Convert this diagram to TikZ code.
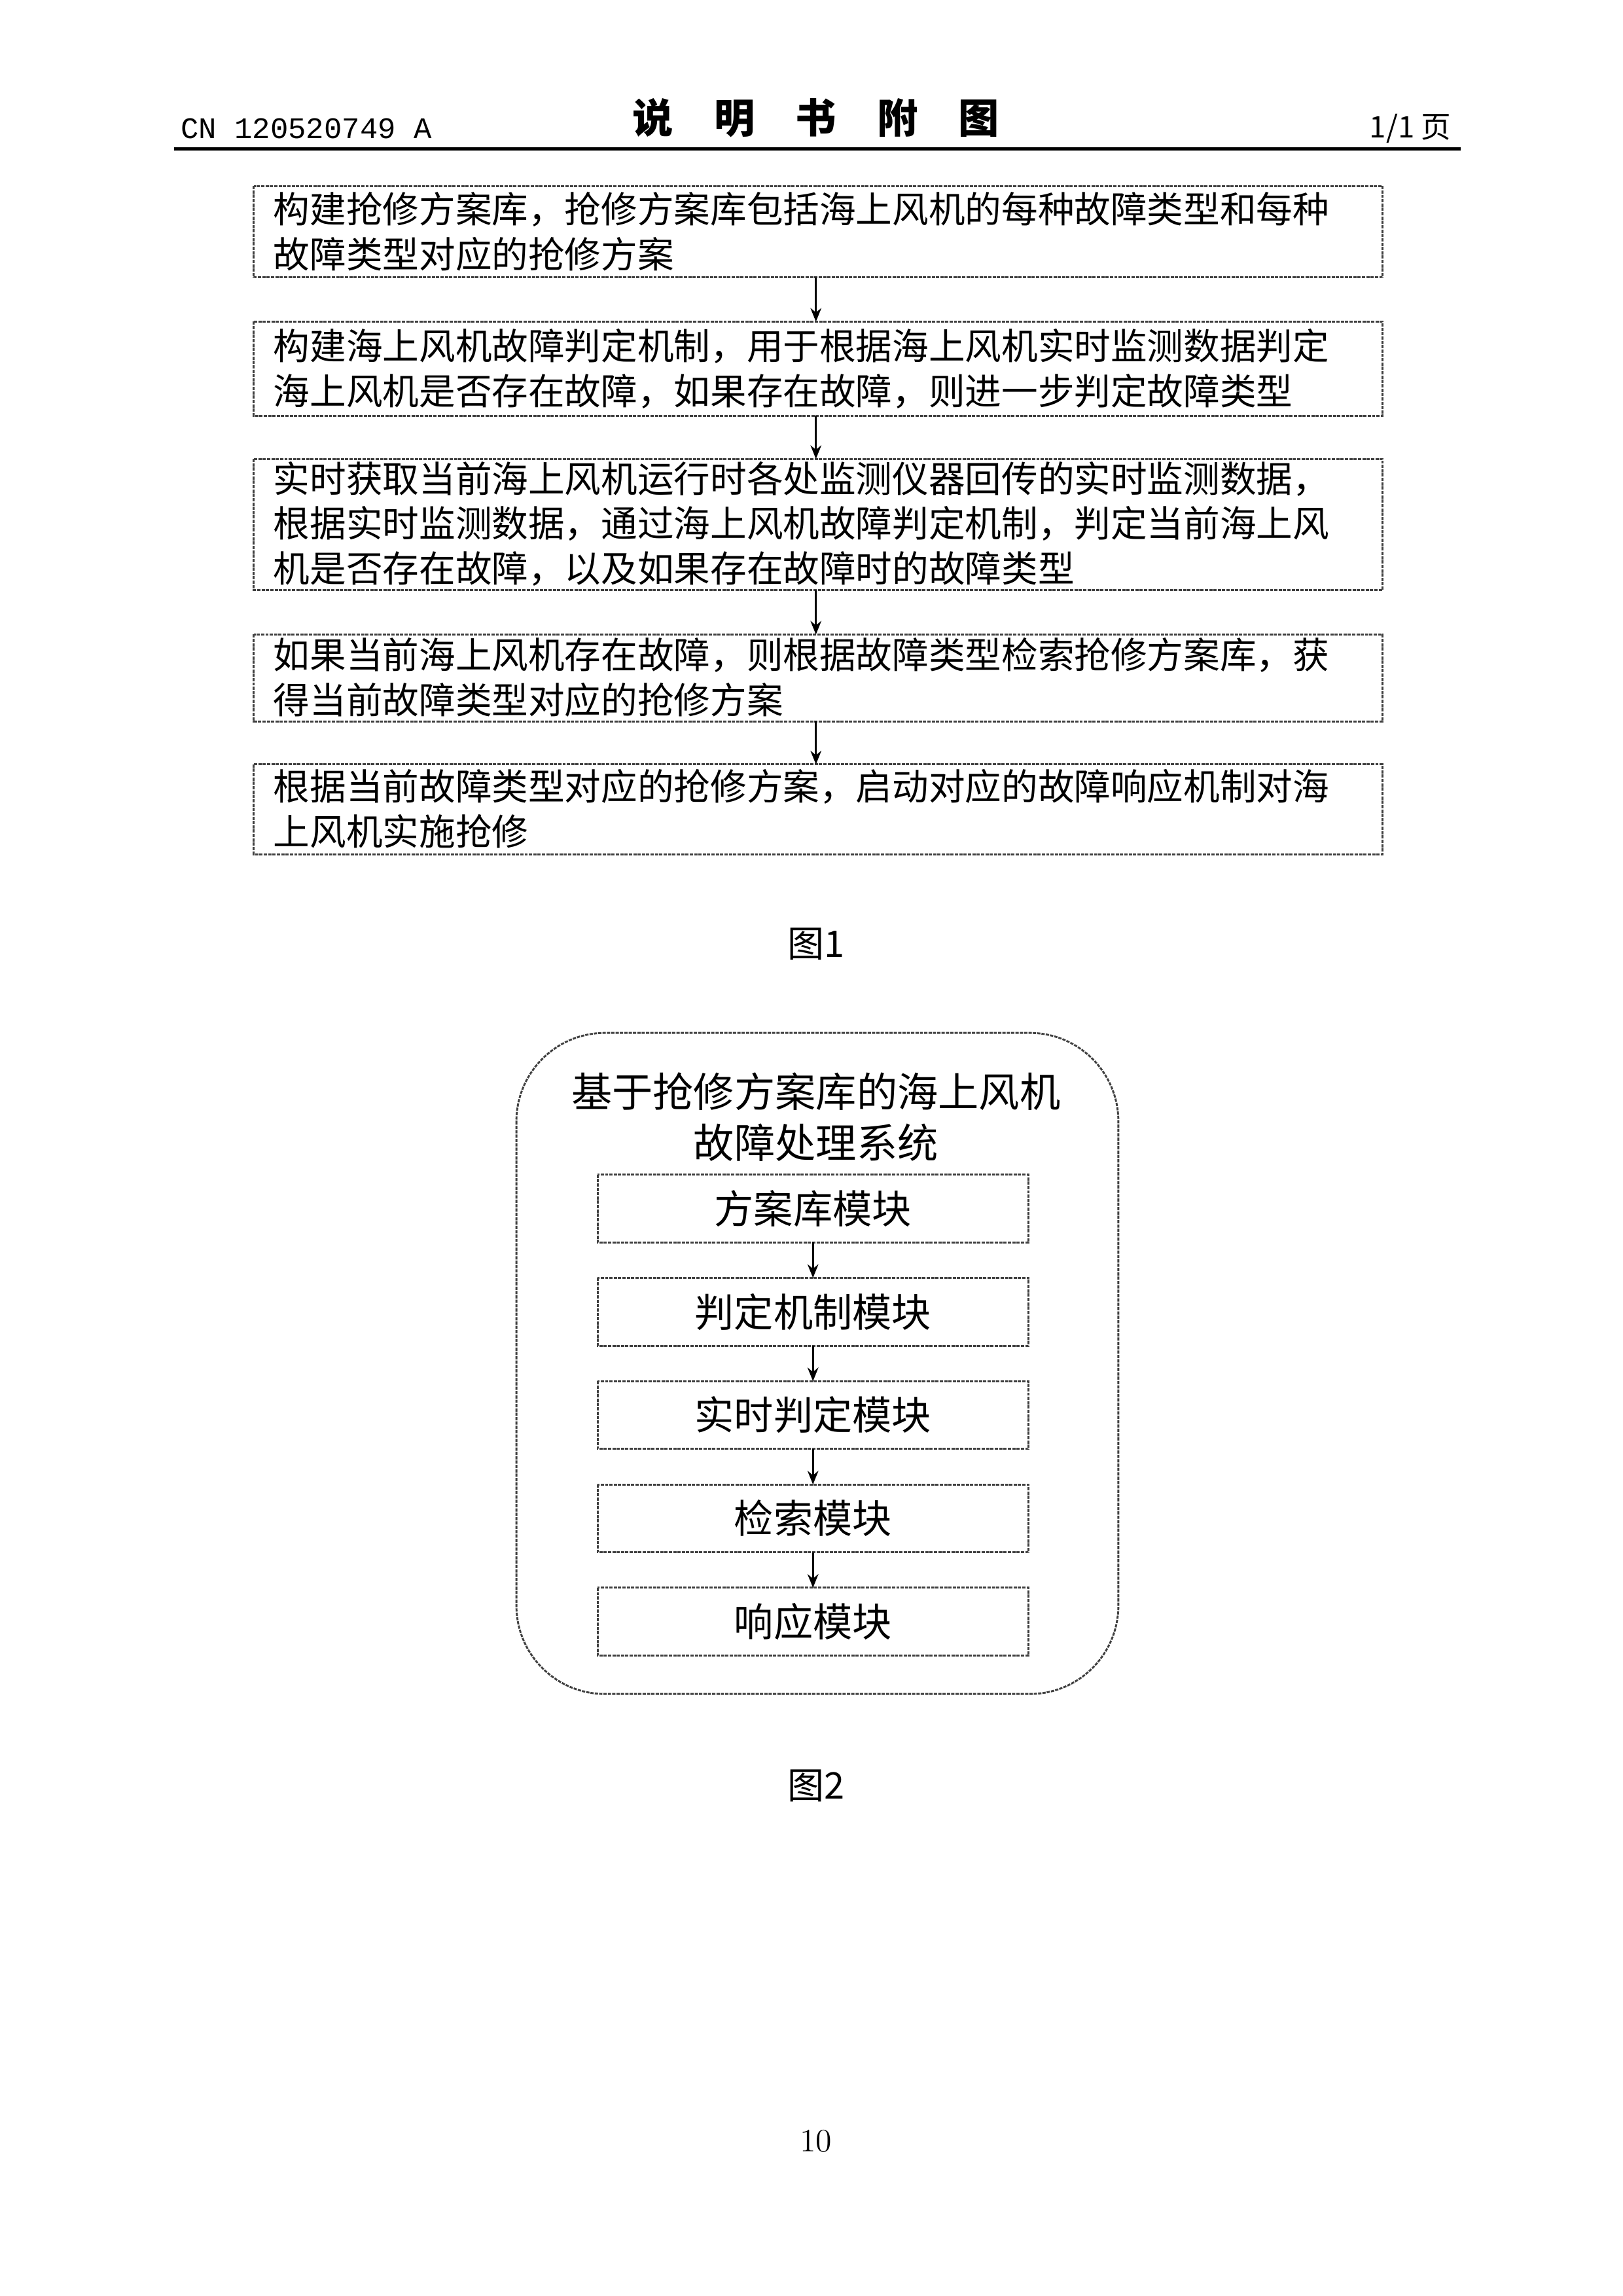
\documentclass[tikz,border=0pt]{standalone}
\usepackage{fontspec}
\usetikzlibrary{arrows.meta}
\newfontfamily\cjk{Noto Sans CJK SC}
\newfontfamily\mono{Liberation Mono}
\begin{document}
\begin{tikzpicture}[x=0.01909cm,y=-0.01909cm,
  bx/.style={draw=black!75,line width=0.7pt,dash pattern=on 1.2pt off 0.4pt,inner sep=0pt},
  tx/.style={font=\cjk\fontsize{13.4}{16.5}\selectfont,align=left,anchor=west,inner sep=0pt},
  mtx/.style={font=\cjk\fontsize{13.5}{17}\selectfont},
  arr/.style={-{Stealth[length=5pt,width=4pt]},line width=0.7pt}]
\useasboundingbox (0,0) rectangle (1100,1556);
\node[font=\mono\fontsize{11}{13}\selectfont,anchor=west] (h1) at (116,87) {CN 120520749 A};
\node[font=\cjk\fontsize{15}{18}\selectfont\bfseries] (h2) at (553,80) {说\quad 明\quad 书\quad 附\quad 图};
\node[font=\cjk\fontsize{11}{13}\selectfont,anchor=east] (h3) at (990,87) {1/1 页};
\draw[line width=1.3pt] (118,101) -- (990,101);
% fig 1
\draw[bx] (172,126) rectangle (937,188); \node[tx] (t1) at (185,157) {构建抢修方案库，抢修方案库包括海上风机的每种故障类型和每种\\故障类型对应的抢修方案};
\draw[bx] (172,218) rectangle (937,282); \node[tx] (t2) at (185,250) {构建海上风机故障判定机制，用于根据海上风机实时监测数据判定\\海上风机是否存在故障，如果存在故障，则进一步判定故障类型};
\draw[bx] (172,311) rectangle (937,400); \node[tx] (t3) at (185,355) {实时获取当前海上风机运行时各处监测仪器回传的实时监测数据，\\根据实时监测数据，通过海上风机故障判定机制，判定当前海上风\\机是否存在故障，以及如果存在故障时的故障类型};
\draw[bx] (172,430) rectangle (937,489); \node[tx] (t4) at (185,459) {如果当前海上风机存在故障，则根据故障类型检索抢修方案库，获\\得当前故障类型对应的抢修方案};
\draw[bx] (172,518) rectangle (937,579); \node[tx] (t5) at (185,548) {根据当前故障类型对应的抢修方案，启动对应的故障响应机制对海\\上风机实施抢修};
\coordinate (a1) at (553,188); \coordinate (b1) at (553,218);
\coordinate (a2) at (553,282); \coordinate (b2) at (553,311);
\coordinate (a3) at (553,400); \coordinate (b3) at (553,430);
\coordinate (a4) at (553,489); \coordinate (b4) at (553,518);
\foreach \i in {1,...,4} \draw[arr] (a\i) -- (b\i);
\node[mtx] (f1) at (553,640) {图1};
% fig 2
\draw[bx,rounded corners=60*0.01909cm] (350,700) rectangle (758,1148);
\node[mtx,align=center,font=\cjk\fontsize{15}{19}\selectfont] (tt) at (553,757) {基于抢修方案库的海上风机\\故障处理系统};
\foreach \n/\y/\t in {m1/819/方案库模块,m2/889/判定机制模块,m3/959/实时判定模块,m4/1029/检索模块,m5/1099/响应模块}{
  \draw[bx] (405,\y-23) rectangle (697,\y+23);
  \node[mtx,font=\cjk\fontsize{14.5}{17}\selectfont] (\n) at (551,\y) {\t};}
\foreach \y in {842,912,982,1052} \draw[arr] (551,\y) -- (551,\y+24);
\node[mtx] (f2) at (553,1210) {图2};
\node[font=\fontsize{12}{14}\selectfont] (pg) at (553,1451) {10};
\end{tikzpicture}
\end{document}
